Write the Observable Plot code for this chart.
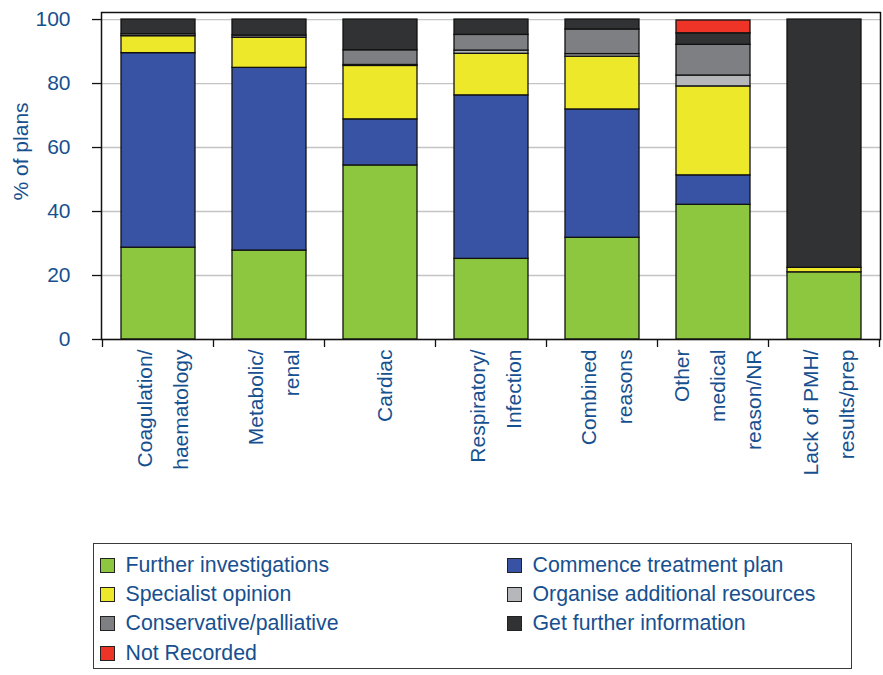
<!DOCTYPE html>
<html><head><meta charset="utf-8">
<script src="https://cdn.jsdelivr.net/npm/d3@7"></script>
<script src="https://cdn.jsdelivr.net/npm/@observablehq/plot@0.6"></script>
<style>
body{margin:0;background:#fff;font-family:"Liberation Sans",Arial,sans-serif;}
#wrap{position:relative;width:883px;height:675px;overflow:hidden;}
#chart{position:absolute;left:0;top:0;}
#legend{position:absolute;left:93px;top:543px;width:759px;height:126px;box-sizing:border-box;border:1.5px solid #3a3a3a;padding:6.5px 0 0 5.5px;display:grid;grid-template-columns:407px 340px;grid-auto-rows:29.3px;}
.item{display:flex;align-items:center;font-size:21.3px;color:#17508f;white-space:nowrap;}
.sw{width:15px;height:15px;box-sizing:border-box;border:1.5px solid #222;margin-right:11px;flex:none;}
</style></head><body><div id="wrap"><div id="chart"></div><div id="legend"></div></div>
<script>
const categories = ["Coagulation/\nhaematology", "Metabolic/\nrenal", "Cardiac", "Respiratory/\nInfection", "Combined\nreasons", "Other\nmedical\nreason/NR", "Lack of PMH/\nresults/prep"];
const seriesNames = ["Further investigations", "Commence treatment plan", "Specialist opinion", "Organise additional resources", "Conservative/palliative", "Get further information", "Not Recorded"];
const seriesColors = ["#8dc63f", "#3953a4", "#ede82a", "#b5b7ba", "#7e7f82", "#313233", "#ee3427"];
const furtherInvestigations = [28.7, 27.8, 54.4, 25.2, 31.8, 42.1, 21.0];
const commenceTreatment     = [60.8, 57.1, 14.4, 51.1, 40.1, 9.2, 0];
const specialistOpinion     = [5.3, 9.4, 16.7, 13.0, 16.5, 27.8, 1.4];
const organiseResources     = [0.6, 0, 0.3, 1.0, 0.8, 3.4, 0];
const conservativePalliative = [0, 0.7, 4.6, 4.9, 7.7, 9.6, 0];
const getFurtherInformation = [4.6, 5.0, 9.6, 4.8, 3.1, 3.6, 77.6];
const notRecorded           = [0, 0, 0, 0, 0, 4.0, 0];
const yTicks = [0, 20, 40, 60, 80, 100];
const yLabel = "% of plans";

const BLUE = "#17508f";
const FONT = "'Liberation Sans', Arial, sans-serif";
const seriesValues = [furtherInvestigations, commenceTreatment, specialistOpinion, organiseResources, conservativePalliative, getFurtherInformation, notRecorded];
const rows = [];
seriesNames.forEach((s, si) => categories.forEach((c, ci) => {
  const v = seriesValues[si][ci];
  if (v > 0) rows.push({category: c, series: s, value: v});
}));

const plot = Plot.plot({
  width: 883, height: 540,
  marginLeft: 101, marginRight: 3, marginTop: 12, marginBottom: 201,
  style: {fontFamily: FONT, background: "transparent", overflow: "visible"},
  x: {domain: categories, paddingInner: 0.335, paddingOuter: 0.168, axis: null},
  y: {domain: [0, 102.2], axis: null, label: null},
  color: {domain: seriesNames, range: seriesColors},
  marks: [
    Plot.gridY(yTicks, {stroke: "#c4c4c4", strokeOpacity: 1, strokeWidth: 1.3}),
    Plot.barY(rows, {x: "category", y: "value", fill: "series", order: seriesNames, stroke: "#111", strokeWidth: 1.3}),
    Plot.frame({stroke: "#111", strokeWidth: 1.5}),
    Plot.axisY(yTicks, {tickSize: 9, tickPadding: 22, fontSize: 21, stroke: "#111", strokeWidth: 1.3, fill: BLUE, label: null}),
    Plot.text(categories, {x: d => d, frameAnchor: "bottom", dy: 10, rotate: -90, textAnchor: "end", lineAnchor: "middle", lineHeight: 1.72, fontSize: 21, fill: BLUE}),
    Plot.text([yLabel], {frameAnchor: "left", dx: -80, dy: 24.5, rotate: -90, fontSize: 21, fill: BLUE})
  ]
});
document.getElementById("chart").appendChild(plot);

// category boundary tick marks below the x axis, from the band scale
const xs = plot.scale("x"), ys = plot.scale("y");
const step = xs.step, bw = xs.bandwidth;
const y0 = ys.apply(0);
const bounds = categories.map(c => xs.apply(c) - (step - bw) / 2);
bounds.push(bounds[bounds.length - 1] + step);
d3.select(plot).append("g").selectAll("line").data(bounds).join("line")
  .attr("x1", d => d).attr("x2", d => d).attr("y1", y0).attr("y2", y0 + 8)
  .attr("stroke", "#111").attr("stroke-width", 1.3);

// legend
const legend = d3.select("#legend");
seriesNames.forEach((s, i) => {
  const it = legend.append("div").attr("class", "item");
  it.append("div").attr("class", "sw").style("background", seriesColors[i]);
  it.append("span").text(s);
});
</script></body></html>
